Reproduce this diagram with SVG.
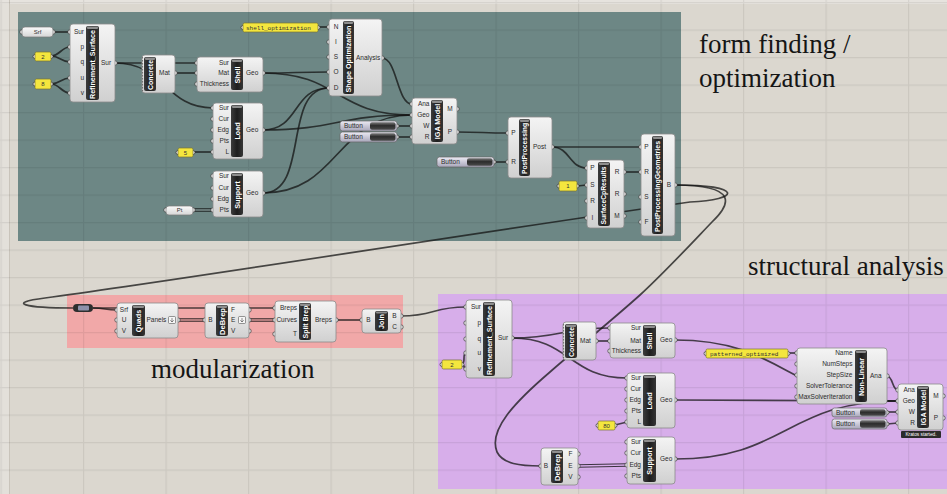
<svg xmlns="http://www.w3.org/2000/svg" width="947" height="494" viewBox="0 0 947 494">
<defs>
<linearGradient id="bx" x1="0" y1="0" x2="0" y2="1"><stop offset="0" stop-color="#f4f4f4"/><stop offset="1" stop-color="#d0d0d0"/></linearGradient>
<linearGradient id="st" x1="0" y1="0" x2="1" y2="0"><stop offset="0" stop-color="#3c3c3c"/><stop offset="0.5" stop-color="#1e1e1e"/><stop offset="1" stop-color="#353535"/></linearGradient>
<linearGradient id="bt" x1="0" y1="0" x2="0" y2="1"><stop offset="0" stop-color="#ecebf4"/><stop offset="1" stop-color="#a8a6ba"/></linearGradient>
<linearGradient id="bd" x1="0" y1="0" x2="0" y2="1"><stop offset="0" stop-color="#7a7a7a"/><stop offset="0.45" stop-color="#2c2c2c"/><stop offset="1" stop-color="#4a4a4a"/></linearGradient>
<linearGradient id="pm" x1="0" y1="0" x2="0" y2="1"><stop offset="0" stop-color="#fafafa"/><stop offset="1" stop-color="#d6d6d6"/></linearGradient>
<pattern id="grid" x="0.5" y="2" width="82.5" height="27.5" patternUnits="userSpaceOnUse"><path d="M0,0.6H82.5M0.6,0V27.5" fill="none" stroke="#000" stroke-opacity="0.07" stroke-width="1.2"/></pattern>
</defs>
<style>
.bx{fill:url(#bx);stroke:#8a8a8a;stroke-width:.8}
.st{fill:url(#st)}
.cap{fill:#8e8e8e}
.t{font-family:"Liberation Sans",Arial,sans-serif;font-weight:bold;font-size:7.2px;fill:#fff;text-anchor:middle}
.t7{font-size:6.8px}
.l{font-family:"Liberation Sans",Arial,sans-serif;font-size:6.5px;fill:#2b2b2b}
.e{text-anchor:end}
.m{text-anchor:middle}
.p{fill:#f2f2f2;stroke:#333;stroke-width:.7}
.y{fill:#f4e63e;stroke:#7a7430;stroke-width:.7}
.pm{fill:url(#pm);stroke:#7a7a7a;stroke-width:.7}
.yt{font-family:"Liberation Sans",Arial,sans-serif;font-size:6px;fill:#333;text-anchor:middle}
.mono{font-family:"Liberation Mono","DejaVu Sans Mono",monospace;font-size:6px;fill:#333}
.w{fill:none;stroke:#141414;stroke-opacity:.75;stroke-width:1.7}
.dw{fill:none;stroke:#141414;stroke-opacity:.8;stroke-width:3.6}
.big{font-family:"Liberation Serif","Times New Roman",serif;font-size:27px;fill:#151515}
.btn{fill:url(#bt);stroke:#666;stroke-width:.7}
.btd{fill:url(#bd)}
.ic{fill:#f6f6f6;stroke:#555;stroke-width:.6}
</style>

<!-- canvas -->
<rect x="0" y="0" width="947" height="494" fill="#dbd7cf"/>
<rect x="0" y="0" width="9" height="494" fill="#e3e0da"/>
<rect x="0" y="0" width="947" height="4" fill="#e6e3de"/>
<path d="M9.5,0V494" stroke="#c9c4bb" stroke-width="1"/>

<!-- group panels -->
<rect x="18" y="12" width="663" height="229" fill="#6d8785"/>
<rect x="67" y="295" width="336" height="53" fill="#f1a8a8"/>
<rect x="438" y="294" width="509" height="195" fill="#d7aeea"/>
<rect x="0" y="0" width="947" height="494" fill="url(#grid)"/>

<!-- group labels -->
<text class="big" x="699" y="53">form finding /</text>
<text class="big" x="699" y="87">optimization</text>
<text class="big" x="748" y="275">structural analysis</text>
<text class="big" x="151" y="378">modularization</text>

<!-- connectors -->
<g id="connectors">
<path class="w" d="M53,32H70"/>
<path class="w" d="M51,56C60,56 61,47 70,47"/>
<path class="w" d="M51,56C60,56 61,62 70,62"/>
<path class="w" d="M51,84C60,84 61,78 70,78"/>
<path class="w" d="M51,84C60,84 61,93 70,93"/>
<path class="w" d="M115,63H197"/>
<path class="w" d="M115,63C165,63 165,108 213,108"/>
<path class="w" d="M175,73H197"/>
<path class="w" d="M263,73C296,73 296,72 329,72"/>
<path class="w" d="M263,73C340,73 335,115 412,115"/>
<path class="w" d="M263,130C300,130 292,88 329,88"/>
<path class="w" d="M263,130C337,130 337,115 412,115"/>
<path class="w" d="M263,193C310,193 282,88 329,88"/>
<path class="w" d="M263,193C340,193 335,115 412,115"/>
<path class="w" d="M318,27H329"/>
<path class="w" d="M193,152H213"/>
<path class="dw" d="M193,210H213"/>
<path d="M193,210H213" stroke="#8a9e9c" stroke-width="1.3"/>
<path class="w" d="M382,58C397,58 397,104 412,104"/>
<path class="w" d="M397,126H412"/>
<path class="w" d="M397,137H412"/>
<path class="w" d="M457,132C482,132 483,133 508,133"/>
<path class="w" d="M494,162H508"/>
<path class="w" d="M552,147H641"/>
<path class="w" d="M552,147C570,147 569,168 587,168"/>
<path class="w" d="M577,186L587,185"/>
<path class="w" d="M624,172H641"/>
<!-- long wires -->
<path class="w" d="M675,185C745,185 740,200 690,202C480,232 180,280 45,298C5,303 25,308 73,308"/>
<path class="w" d="M675,185C740,185 730,205 712,222C690,245 665,272 640,295C610,322 575,350 550,372C515,402 488,430 497,452C503,464 520,466 541,466"/>
<!-- modularization -->
<path class="w" d="M93,308C105,308 105,310 117,310"/>
<path class="w" d="M93,308H275"/>
<path class="dw" d="M178,320H205"/>
<path d="M178,320H205" stroke="#f1a8a8" stroke-width="1.3"/>
<path class="dw" d="M249,320H275"/>
<path d="M249,320H275" stroke="#f1a8a8" stroke-width="1.3"/>
<path class="w" d="M336,320H362"/>
<path class="w" d="M401,316C435,316 432,307 466,307"/>
<!-- structural analysis -->
<path class="w" d="M462,364C466,364 462,353 466,353"/>
<path class="w" d="M462,364C465,364 463,369 466,369"/>
<path class="w" d="M512,338C561,338 561,328 610,328"/>
<path class="w" d="M512,338C570,338 569,378 627,378"/>
<path class="w" d="M596,341H610"/>
<path class="w" d="M675,340C786,340 787,401 898,401"/>
<path class="w" d="M675,400L898,401"/>
<path class="w" d="M675,459C786,459 787,401 898,401"/>
<path class="w" d="M887,376C893,376 892,390 898,390"/>
<path class="w" d="M887,412H898"/>
<path class="w" d="M887,424L898,423"/>
<path class="w" d="M788,353H797"/>
<path class="w" d="M615,425L627,422"/>
<path class="dw" d="M578,466L627,465"/>
<path d="M578,466L627,465" stroke="#d7aeea" stroke-width="1.3"/>
</g>

<!-- ===== form finding / optimization ===== -->
<g id="srf">
<circle class="p" cx="22" cy="32" r="2.2"/><circle class="p" cx="53" cy="32" r="2.2"/>
<rect class="pm" x="22" y="27" width="31" height="10" rx="3"/>
<text class="yt" x="37.5" y="34.2">Srf</text>
</g>
<g id="num2a">
<circle class="p" cx="35" cy="56.5" r="2"/><circle class="p" cx="51" cy="56.5" r="2"/>
<rect class="y" x="35" y="52" width="16" height="9" rx="1.5"/>
<text class="yt" x="43" y="58.8">2</text>
</g>
<g id="num8">
<circle class="p" cx="35" cy="84" r="2"/><circle class="p" cx="51" cy="84" r="2"/>
<rect class="y" x="35" y="79" width="16" height="10" rx="1.5"/>
<text class="yt" x="43" y="86.2">8</text>
</g>
<g id="refine1">
<circle class="p" cx="70" cy="32" r="2.2"/><circle class="p" cx="70" cy="47" r="2.2"/><circle class="p" cx="70" cy="62" r="2.2"/><circle class="p" cx="70" cy="78" r="2.2"/><circle class="p" cx="70" cy="93" r="2.2"/><circle class="p" cx="115" cy="63" r="2.2"/>
<rect class="bx" x="70" y="24" width="45" height="78" rx="3"/>
<rect class="st" x="86" y="26" width="13" height="74" rx="2"/>
<rect class="cap" x="87" y="26.5" width="11" height="2.5" rx="1"/>
<text class="t" transform="translate(92.5,64.5) rotate(-90)" dy="2.5" textLength="69" lengthAdjust="spacingAndGlyphs">Refinement_Surface</text>
<text class="l e" x="84" y="34.3">Sur</text><text class="l e" x="84" y="49.3">p</text><text class="l e" x="84" y="64.3">q</text><text class="l e" x="84" y="80.3">u</text><text class="l e" x="84" y="95.3">v</text>
<text class="l" x="101" y="65.3">Sur</text>
</g>
<g id="concrete1">
<circle class="p" cx="175" cy="73" r="2.2"/>
<rect class="bx" x="142" y="55" width="33" height="38" rx="3"/>
<path d="M142.6,57V91" stroke="#555" stroke-width=".8" stroke-dasharray="1.5,1.5"/>
<rect class="st" x="144" y="57" width="12" height="34" rx="2"/>
<rect class="cap" x="145" y="57.5" width="10" height="2.5" rx="1"/>
<text class="t" transform="translate(150,75) rotate(-90)" dy="2.5" textLength="30" lengthAdjust="spacingAndGlyphs">Concrete</text>
<text class="l" x="159" y="75.3">Mat</text>
</g>
<g id="shell1">
<circle class="p" cx="197" cy="63" r="2.2"/><circle class="p" cx="197" cy="73" r="2.2"/><circle class="p" cx="197" cy="84" r="2.2"/><circle class="p" cx="263" cy="73" r="2.2"/>
<rect class="bx" x="197" y="57" width="66" height="35" rx="3"/>
<rect class="st" x="231" y="59" width="12" height="31" rx="2"/>
<rect class="cap" x="232" y="59.5" width="10" height="2.5" rx="1"/>
<text class="t" transform="translate(237,75) rotate(-90)" dy="2.5">Shell</text>
<text class="l e" x="229" y="65.3">Sur</text><text class="l e" x="229" y="75.3">Mat</text><text class="l e" x="229" y="86.3">Thickness</text>
<text class="l" x="246" y="75.3">Geo</text>
</g>
<g id="load1">
<circle class="p" cx="213" cy="108" r="2.2"/><circle class="p" cx="213" cy="119" r="2.2"/><circle class="p" cx="213" cy="130" r="2.2"/><circle class="p" cx="213" cy="141" r="2.2"/><circle class="p" cx="213" cy="152" r="2.2"/><circle class="p" cx="263" cy="130" r="2.2"/>
<rect class="bx" x="213" y="103" width="50" height="56" rx="3"/>
<rect class="st" x="231" y="105" width="12" height="52" rx="2"/>
<rect class="cap" x="232" y="105.5" width="10" height="2.5" rx="1"/>
<text class="t" transform="translate(237,131) rotate(-90)" dy="2.5">Load</text>
<text class="l e" x="229" y="110.3">Sur</text><text class="l e" x="229" y="121.3">Cur</text><text class="l e" x="229" y="132.3">Edg</text><text class="l e" x="229" y="143.3">Pts</text><text class="l e" x="229" y="154.3">L</text>
<text class="l" x="246" y="132.3">Geo</text>
</g>
<g id="num5">
<circle class="p" cx="178" cy="152.5" r="2"/><circle class="p" cx="193" cy="152.5" r="2"/>
<rect class="y" x="178" y="148" width="15" height="9" rx="1.5"/>
<text class="yt" x="185.5" y="154.7">5</text>
</g>
<g id="support1">
<circle class="p" cx="213" cy="176" r="2.2"/><circle class="p" cx="213" cy="188" r="2.2"/><circle class="p" cx="213" cy="199" r="2.2"/><circle class="p" cx="213" cy="210" r="2.2"/><circle class="p" cx="263" cy="193" r="2.2"/>
<rect class="bx" x="213" y="171" width="50" height="46" rx="3"/>
<rect class="st" x="231" y="173" width="12" height="42" rx="2"/>
<rect class="cap" x="232" y="173.5" width="10" height="2.5" rx="1"/>
<text class="t" transform="translate(237,195) rotate(-90)" dy="2.5">Support</text>
<text class="l e" x="229" y="178.3">Sur</text><text class="l e" x="229" y="190.3">Cur</text><text class="l e" x="229" y="201.3">Edg</text><text class="l e" x="229" y="212.3">Pts</text>
<text class="l" x="246" y="195.3">Geo</text>
</g>
<g id="pt">
<circle class="p" cx="166" cy="210" r="2.2"/><circle class="p" cx="193" cy="210" r="2.2"/>
<rect class="pm" x="166" y="206" width="27" height="9" rx="3"/>
<text class="yt" x="179.5" y="212.3">Pt</text>
</g>
<g id="shellopt">
<circle class="p" cx="243" cy="27.5" r="2"/><circle class="p" cx="318" cy="27.5" r="2"/>
<rect class="y" x="243" y="23" width="75" height="9" rx="1.5"/>
<text class="mono" x="246" y="29.7">shell_optimization</text>
</g>
<g id="shapeopt">
<circle class="p" cx="329" cy="27" r="2.2"/><circle class="p" cx="329" cy="42" r="2.2"/><circle class="p" cx="329" cy="57" r="2.2"/><circle class="p" cx="329" cy="72" r="2.2"/><circle class="p" cx="329" cy="88" r="2.2"/><circle class="p" cx="382" cy="58" r="2.2"/>
<rect class="bx" x="329" y="19" width="53" height="77" rx="3"/>
<rect class="st" x="343" y="21" width="11" height="73" rx="2"/>
<rect class="cap" x="344" y="21.5" width="9" height="2.5" rx="1"/>
<text class="t" transform="translate(348.5,59) rotate(-90)" dy="2.5" textLength="67" lengthAdjust="spacingAndGlyphs">Shape Optimization</text>
<text class="l m" x="336" y="29.3">N</text><text class="l m" x="336" y="44.3">I</text><text class="l m" x="336" y="59.3">S</text><text class="l m" x="336" y="74.3">O</text><text class="l m" x="336" y="90.3">D</text>
<text class="l" x="356" y="60.3">Analysis</text>
</g>
<g id="btn1">
<circle class="p" cx="397" cy="126" r="2"/>
<rect class="btn" x="340" y="121" width="57" height="10" rx="2.5"/>
<rect class="btd" x="370" y="122.3" width="25.5" height="7.4" rx="2"/>
<text class="l" x="344" y="128.3">Button</text>
</g>
<g id="btn2">
<circle class="p" cx="397" cy="137" r="2"/>
<rect class="btn" x="340" y="132" width="57" height="10" rx="2.5"/>
<rect class="btd" x="370" y="133.3" width="25.5" height="7.4" rx="2"/>
<text class="l" x="344" y="139.3">Button</text>
</g>
<g id="iga1">
<circle class="p" cx="412" cy="104" r="2.2"/><circle class="p" cx="412" cy="115" r="2.2"/><circle class="p" cx="412" cy="126" r="2.2"/><circle class="p" cx="412" cy="137" r="2.2"/><circle class="p" cx="457" cy="109" r="2.2"/><circle class="p" cx="457" cy="132" r="2.2"/>
<rect class="bx" x="412" y="98" width="45" height="46" rx="3"/>
<rect class="st" x="431" y="100" width="12" height="42" rx="2"/>
<rect class="cap" x="432" y="100.5" width="10" height="2.5" rx="1"/>
<text class="t" transform="translate(437,121.5) rotate(-90)" dy="2.5">IGA Model</text>
<text class="l e" x="429.5" y="106.3">Ana</text><text class="l e" x="429.5" y="117.3">Geo</text><text class="l e" x="429.5" y="128.3">W</text><text class="l e" x="429.5" y="139.3">R</text>
<text class="l m" x="450" y="111.3">M</text><text class="l m" x="450" y="134.3">P</text>
</g>
<g id="btn3">
<circle class="p" cx="494" cy="162" r="2"/>
<rect class="btn" x="437" y="157" width="57" height="10" rx="2.5"/>
<rect class="btd" x="467" y="158.3" width="25.5" height="7.4" rx="2"/>
<text class="l" x="441" y="164.3">Button</text>
</g>
<g id="postproc">
<circle class="p" cx="508" cy="133" r="2.2"/><circle class="p" cx="508" cy="162" r="2.2"/><circle class="p" cx="552" cy="147" r="2.2"/>
<rect class="bx" x="508" y="117" width="44" height="61" rx="3"/>
<rect class="st" x="519" y="119" width="11" height="57" rx="2"/>
<rect class="cap" x="520" y="119.5" width="9" height="2.5" rx="1"/>
<text class="t t7" transform="translate(524.5,148.5) rotate(-90)" dy="2.4" textLength="51" lengthAdjust="spacingAndGlyphs">PostProcessing</text>
<text class="l m" x="513.5" y="135.3">P</text><text class="l m" x="513.5" y="164.3">R</text>
<text class="l" x="533" y="149.3">Post</text>
</g>
<g id="num1">
<circle class="p" cx="559" cy="186" r="2"/><circle class="p" cx="577" cy="186" r="2"/>
<rect class="y" x="559" y="181" width="18" height="10" rx="1.5"/>
<text class="yt" x="568" y="188.3">1</text>
</g>
<g id="surfcp">
<circle class="p" cx="587" cy="168" r="2.2"/><circle class="p" cx="587" cy="185" r="2.2"/><circle class="p" cx="587" cy="201" r="2.2"/><circle class="p" cx="587" cy="218" r="2.2"/><circle class="p" cx="624" cy="172" r="2.2"/><circle class="p" cx="624" cy="194" r="2.2"/><circle class="p" cx="624" cy="216" r="2.2"/>
<rect class="bx" x="587" y="160" width="37" height="68" rx="3"/>
<rect class="st" x="598" y="162" width="12" height="64" rx="2"/>
<rect class="cap" x="599" y="162.5" width="10" height="2.5" rx="1"/>
<text class="t t7" transform="translate(604,195.5) rotate(-90)" dy="2.4" textLength="58" lengthAdjust="spacingAndGlyphs">SurfaceCpResults</text>
<text class="l m" x="592.5" y="170.3">P</text><text class="l m" x="592.5" y="187.3">S</text><text class="l m" x="592.5" y="203.3">R</text><text class="l m" x="592.5" y="220.3">I</text>
<text class="l m" x="617" y="174.3">R</text><text class="l m" x="617" y="196.3">R</text><text class="l m" x="617" y="218.3">M</text>
</g>
<g id="ppgeom">
<circle class="p" cx="641" cy="147" r="2.2"/><circle class="p" cx="641" cy="172" r="2.2"/><circle class="p" cx="641" cy="197" r="2.2"/><circle class="p" cx="641" cy="222" r="2.2"/><circle class="p" cx="675" cy="185" r="2.2"/>
<rect class="bx" x="641" y="134" width="34" height="102" rx="3"/>
<rect class="st" x="652" y="136" width="11" height="98" rx="2"/>
<rect class="cap" x="653" y="136.5" width="9" height="2.5" rx="1"/>
<text class="t t7" transform="translate(657.5,186.5) rotate(-90)" dy="2.4" textLength="91" lengthAdjust="spacingAndGlyphs">PostProcessingGeometries</text>
<text class="l m" x="646.5" y="149.3">P</text><text class="l m" x="646.5" y="174.3">R</text><text class="l m" x="646.5" y="199.3">S</text><text class="l m" x="646.5" y="224.3">F</text>
<text class="l m" x="669" y="187.3">B</text>
</g>

<!-- ===== modularization ===== -->
<g id="capsule">
<rect x="73" y="304" width="20" height="8" rx="4" fill="#2e2e2e"/>
<rect x="78" y="305.5" width="11" height="5" rx="1" fill="#8d91aa"/>
</g>
<g id="quads">
<circle class="p" cx="117" cy="310" r="2.2"/><circle class="p" cx="117" cy="320" r="2.2"/><circle class="p" cx="117" cy="331" r="2.2"/><circle class="p" cx="178" cy="320" r="2.2"/>
<rect class="bx" x="117" y="303" width="61" height="35" rx="3"/>
<rect class="st" x="132" y="305" width="13" height="31" rx="2"/>
<rect class="cap" x="133" y="305.5" width="11" height="2.5" rx="1"/>
<text class="t" transform="translate(138.5,321) rotate(-90)" dy="2.5">Quads</text>
<text class="l m" x="124" y="312.3">Srf</text><text class="l m" x="124" y="322.3">U</text><text class="l m" x="124" y="333.3">V</text>
<text class="l" x="146.5" y="322.3">Panels</text>
<rect class="ic" x="168.5" y="316.5" width="7" height="7" rx="1"/>
<path d="M172,318v4M170.3,320.3l1.7,1.7l1.7,-1.7" stroke="#444" stroke-width=".6" fill="none"/>
</g>
<g id="debrep1">
<circle class="p" cx="205" cy="320" r="2.2"/><circle class="p" cx="249" cy="310" r="2.2"/><circle class="p" cx="249" cy="320" r="2.2"/><circle class="p" cx="249" cy="331" r="2.2"/>
<rect class="bx" x="205" y="303" width="44" height="35" rx="3"/>
<rect class="st" x="216" y="305" width="12" height="31" rx="2"/>
<rect class="cap" x="217" y="305.5" width="10" height="2.5" rx="1"/>
<text class="t" transform="translate(222,321.5) rotate(-90)" dy="2.5" textLength="27" lengthAdjust="spacingAndGlyphs">DeBrep</text>
<text class="l m" x="210.5" y="322.3">B</text>
<text class="l" x="231" y="312.3">F</text><text class="l" x="231" y="322.3">E</text><text class="l" x="231" y="333.3">V</text>
<rect class="ic" x="238.5" y="316.5" width="7" height="7" rx="1"/>
<path d="M242,318v4M240.3,320.3l1.7,1.7l1.7,-1.7" stroke="#444" stroke-width=".6" fill="none"/>
</g>
<g id="splitbrep">
<circle class="p" cx="275" cy="308" r="2.2"/><circle class="p" cx="275" cy="320" r="2.2"/><circle class="p" cx="275" cy="334" r="2.2"/><circle class="p" cx="336" cy="320" r="2.2"/>
<rect class="bx" x="275" y="301" width="61" height="41" rx="3"/>
<rect class="st" x="299" y="303" width="12" height="37" rx="2"/>
<rect class="cap" x="300" y="303.5" width="10" height="2.5" rx="1"/>
<text class="t" transform="translate(305,322) rotate(-90)" dy="2.5" textLength="33" lengthAdjust="spacingAndGlyphs">Split Brep</text>
<text class="l e" x="297" y="310.3">Breps</text><text class="l e" x="297" y="322.3">Curves</text><text class="l e" x="297" y="336.3">T</text>
<text class="l" x="315" y="322.3">Breps</text>
</g>
<g id="join">
<circle class="p" cx="362" cy="320" r="2.2"/><circle class="p" cx="401" cy="316" r="2.2"/><circle class="p" cx="401" cy="327" r="2.2"/>
<rect class="bx" x="362" y="309" width="39" height="24" rx="3"/>
<rect class="st" x="375" y="311" width="13" height="20" rx="2"/>
<rect class="cap" x="376" y="311.5" width="11" height="2" rx="1"/>
<text class="t" transform="translate(381.5,321.5) rotate(-90)" dy="2.5">Join</text>
<text class="l m" x="368.5" y="322.3">B</text>
<text class="l m" x="394.5" y="318.3">B</text><text class="l m" x="394.5" y="329.3">C</text>
</g>

<!-- ===== structural analysis ===== -->
<g id="refine2">
<circle class="p" cx="466" cy="307" r="2.2"/><circle class="p" cx="466" cy="323" r="2.2"/><circle class="p" cx="466" cy="339" r="2.2"/><circle class="p" cx="466" cy="353" r="2.2"/><circle class="p" cx="466" cy="369" r="2.2"/><circle class="p" cx="512" cy="338" r="2.2"/>
<rect class="bx" x="466" y="300" width="46" height="78" rx="3"/>
<rect class="st" x="483" y="302" width="12" height="74" rx="2"/>
<rect class="cap" x="484" y="302.5" width="10" height="2.5" rx="1"/>
<text class="t" transform="translate(489,340.5) rotate(-90)" dy="2.5" textLength="69" lengthAdjust="spacingAndGlyphs">Refinement_Surface</text>
<text class="l e" x="481" y="309.3">Sur</text><text class="l e" x="481" y="325.3">p</text><text class="l e" x="481" y="341.3">q</text><text class="l e" x="481" y="355.3">u</text><text class="l e" x="481" y="371.3">v</text>
<text class="l" x="498" y="340.3">Sur</text>
</g>
<g id="num2b">
<circle class="p" cx="442" cy="364.5" r="2"/><circle class="p" cx="462" cy="364.5" r="2"/>
<rect class="y" x="442" y="360" width="20" height="9" rx="1.5"/>
<text class="yt" x="452" y="366.7">2</text>
</g>
<g id="concrete2">
<circle class="p" cx="596" cy="341" r="2.2"/>
<rect class="bx" x="563" y="322" width="33" height="38" rx="3"/>
<path d="M563.6,324V358" stroke="#555" stroke-width=".8" stroke-dasharray="1.5,1.5"/>
<rect class="st" x="565" y="324" width="12" height="34" rx="2"/>
<rect class="cap" x="566" y="324.5" width="10" height="2.5" rx="1"/>
<text class="t" transform="translate(571,342) rotate(-90)" dy="2.5" textLength="30" lengthAdjust="spacingAndGlyphs">Concrete</text>
<text class="l" x="580" y="343.3">Mat</text>
</g>
<g id="shell2">
<circle class="p" cx="610" cy="328" r="2.2"/><circle class="p" cx="610" cy="341" r="2.2"/><circle class="p" cx="610" cy="351" r="2.2"/><circle class="p" cx="675" cy="340" r="2.2"/>
<rect class="bx" x="610" y="323" width="65" height="35" rx="3"/>
<rect class="st" x="643" y="325" width="13" height="31" rx="2"/>
<rect class="cap" x="644" y="325.5" width="11" height="2.5" rx="1"/>
<text class="t" transform="translate(649.5,341) rotate(-90)" dy="2.5">Shell</text>
<text class="l e" x="641" y="330.3">Sur</text><text class="l e" x="641" y="343.3">Mat</text><text class="l e" x="641" y="353.3">Thickness</text>
<text class="l" x="660" y="342.3">Geo</text>
</g>
<g id="load2">
<circle class="p" cx="627" cy="378" r="2.2"/><circle class="p" cx="627" cy="389" r="2.2"/><circle class="p" cx="627" cy="400" r="2.2"/><circle class="p" cx="627" cy="411" r="2.2"/><circle class="p" cx="627" cy="422" r="2.2"/><circle class="p" cx="675" cy="400" r="2.2"/>
<rect class="bx" x="627" y="373" width="48" height="55" rx="3"/>
<rect class="st" x="643" y="375" width="13" height="51" rx="2"/>
<rect class="cap" x="644" y="375.5" width="11" height="2.5" rx="1"/>
<text class="t" transform="translate(649.5,401) rotate(-90)" dy="2.5">Load</text>
<text class="l e" x="641" y="380.3">Sur</text><text class="l e" x="641" y="391.3">Cur</text><text class="l e" x="641" y="402.3">Edg</text><text class="l e" x="641" y="413.3">Pts</text><text class="l e" x="641" y="424.3">L</text>
<text class="l" x="660" y="402.3">Geo</text>
</g>
<g id="num80">
<circle class="p" cx="598" cy="425.5" r="2"/><circle class="p" cx="615" cy="425.5" r="2"/>
<rect class="y" x="598" y="421" width="17" height="9" rx="1.5"/>
<text class="yt" x="606.5" y="427.7">80</text>
</g>
<g id="support2">
<circle class="p" cx="627" cy="442" r="2.2"/><circle class="p" cx="627" cy="453" r="2.2"/><circle class="p" cx="627" cy="465" r="2.2"/><circle class="p" cx="627" cy="476" r="2.2"/><circle class="p" cx="675" cy="459" r="2.2"/>
<rect class="bx" x="627" y="437" width="48" height="47" rx="3"/>
<rect class="st" x="643" y="439" width="13" height="43" rx="2"/>
<rect class="cap" x="644" y="439.5" width="11" height="2.5" rx="1"/>
<text class="t" transform="translate(649.5,461) rotate(-90)" dy="2.5">Support</text>
<text class="l e" x="641" y="444.3">Sur</text><text class="l e" x="641" y="455.3">Cur</text><text class="l e" x="641" y="467.3">Edg</text><text class="l e" x="641" y="478.3">Pts</text>
<text class="l" x="660" y="461.3">Geo</text>
</g>
<g id="debrep2">
<circle class="p" cx="541" cy="466" r="2.2"/><circle class="p" cx="578" cy="454" r="2.2"/><circle class="p" cx="578" cy="466" r="2.2"/><circle class="p" cx="578" cy="477" r="2.2"/>
<rect class="bx" x="541" y="448" width="37" height="37" rx="3"/>
<rect class="st" x="551" y="450" width="12" height="33" rx="2"/>
<rect class="cap" x="552" y="450.5" width="10" height="2.5" rx="1"/>
<text class="t" transform="translate(557,467.5) rotate(-90)" dy="2.5" textLength="27" lengthAdjust="spacingAndGlyphs">DeBrep</text>
<text class="l m" x="546" y="468.3">B</text>
<text class="l m" x="570.5" y="456.3">F</text><text class="l m" x="570.5" y="468.3">E</text><text class="l m" x="570.5" y="479.3">V</text>
</g>
<g id="patterned">
<circle class="p" cx="706" cy="353.5" r="2"/><circle class="p" cx="788" cy="353.5" r="2"/>
<rect class="y" x="706" y="349" width="82" height="9" rx="1.5"/>
<text class="mono" x="710" y="355.7">patterned_optimized</text>
</g>
<g id="nonlinear">
<circle class="p" cx="797" cy="353" r="2.2"/><circle class="p" cx="797" cy="364" r="2.2"/><circle class="p" cx="797" cy="375" r="2.2"/><circle class="p" cx="797" cy="386" r="2.2"/><circle class="p" cx="797" cy="397" r="2.2"/><circle class="p" cx="887" cy="376" r="2.2"/>
<rect class="bx" x="797" y="348" width="90" height="56" rx="3"/>
<rect class="st" x="855" y="350" width="12" height="52" rx="2"/>
<rect class="cap" x="856" y="350.5" width="10" height="2.5" rx="1"/>
<text class="t" transform="translate(861,377) rotate(-90)" dy="2.5">Non-Linear</text>
<text class="l e" x="852.5" y="355.3">Name</text><text class="l e" x="852.5" y="366.3">NumSteps</text><text class="l e" x="852.5" y="377.3">StepSize</text><text class="l e" x="852.5" y="388.3">SolverTolerance</text><text class="l e" x="852.5" y="399.3">MaxSolverIteration</text>
<text class="l" x="870" y="378.3">Ana</text>
</g>
<g id="btn4">
<circle class="p" cx="887" cy="412.5" r="2"/>
<rect class="btn" x="832" y="408" width="55" height="9" rx="2.5"/>
<rect class="btd" x="860" y="409.2" width="25.5" height="6.6" rx="2"/>
<text class="l" x="836" y="414.8">Button</text>
</g>
<g id="btn5">
<circle class="p" cx="887" cy="424" r="2"/>
<rect class="btn" x="832" y="419" width="55" height="10" rx="2.5"/>
<rect class="btd" x="860" y="420.3" width="25.5" height="7.4" rx="2"/>
<text class="l" x="836" y="426.3">Button</text>
</g>
<g id="iga2">
<circle class="p" cx="898" cy="390" r="2.2"/><circle class="p" cx="898" cy="401" r="2.2"/><circle class="p" cx="898" cy="412" r="2.2"/><circle class="p" cx="898" cy="423" r="2.2"/><circle class="p" cx="943" cy="396" r="2.2"/><circle class="p" cx="943" cy="418" r="2.2"/>
<rect class="bx" x="898" y="384" width="45" height="46" rx="3"/>
<rect class="st" x="917" y="386" width="12" height="42" rx="2"/>
<rect class="cap" x="918" y="386.5" width="10" height="2.5" rx="1"/>
<text class="t" transform="translate(923,407.5) rotate(-90)" dy="2.5">IGA Model</text>
<text class="l e" x="915" y="392.3">Ana</text><text class="l e" x="915" y="403.3">Geo</text><text class="l e" x="915" y="414.3">W</text><text class="l e" x="915" y="425.3">R</text>
<text class="l m" x="936" y="398.3">M</text><text class="l m" x="936" y="420.3">P</text>
<rect x="901" y="431" width="40" height="7" rx="1" fill="#2b2b2b"/>
<text x="921" y="436.3" font-family="Liberation Sans, Arial, sans-serif" font-size="4.8" fill="#fff" text-anchor="middle">Kratos started.</text>
</g>
</svg>
